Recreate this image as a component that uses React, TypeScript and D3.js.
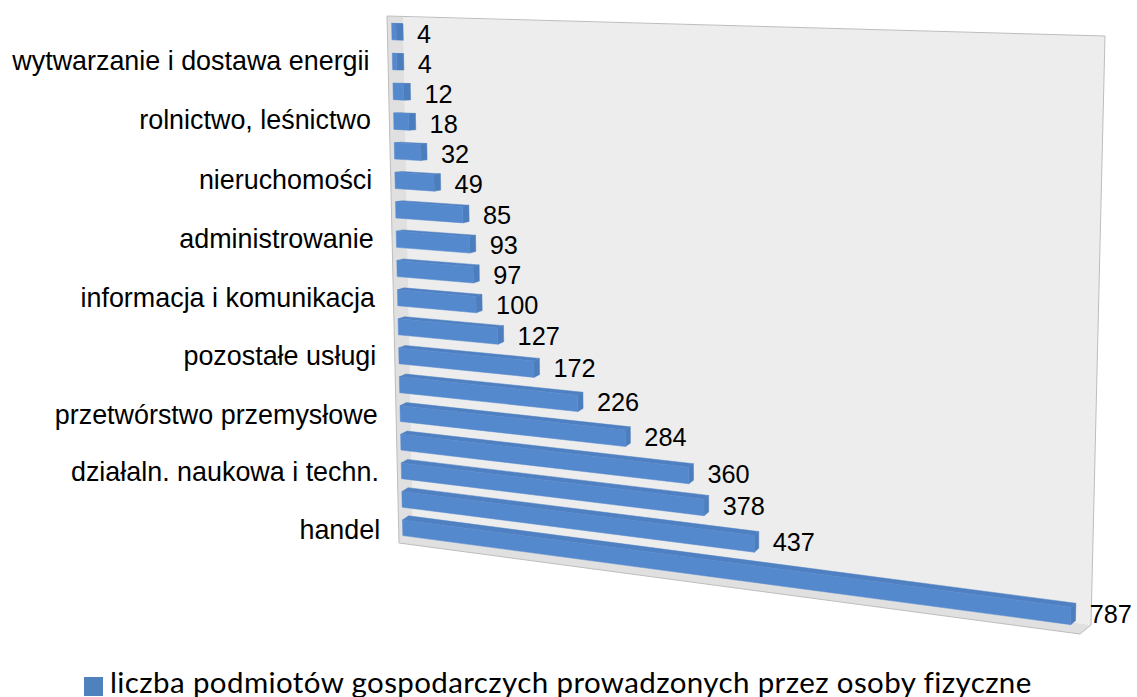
import React from "react";
import * as d3 from "d3";

// top to bottom, Excel only printed every second category name
const rowLabels = [
  "",
  "wytwarzanie i dostawa energii",
  "",
  "rolnictwo, leśnictwo",
  "",
  "nieruchomości",
  "",
  "administrowanie",
  "",
  "informacja i komunikacja",
  "",
  "pozostałe usługi",
  "",
  "przetwórstwo przemysłowe",
  "",
  "działaln. naukowa i techn.",
  "",
  "handel",
];
const values = [4, 4, 12, 18, 32, 49, 85, 93, 97, 100, 127, 172, 226, 284, 360, 378, 437, 787];
const legendLabel = "liczba podmiotów gospodarczych prowadzonych przez osoby fizyczne";

const width = 1137;
const height = 697;

type Pt = [number, number];

// corners of the 3D box as Excel drew it: top-left, top-right, bottom-right, bottom-left
const frontQuad: Pt[] = [[387, 16], [1089, 42], [1080, 634], [399, 543]];
const backQuad: Pt[] = [[403, 17], [1105, 36], [1091, 625], [413, 533]];

// unit square -> quadrilateral
const homography = (q: Pt[]) => {
  const [[x0, y0], [x1, y1], [x2, y2], [x3, y3]] = q;
  const dx1 = x1 - x2, dx2 = x3 - x2, sx = x0 - x1 + x2 - x3;
  const dy1 = y1 - y2, dy2 = y3 - y2, sy = y0 - y1 + y2 - y3;
  const det = dx1 * dy2 - dx2 * dy1;
  const g = (sx * dy2 - dx2 * sy) / det;
  const h = (dx1 * sy - sx * dy1) / det;
  return (u: number, v: number): Pt => {
    const w = g * u + h * v + 1;
    return [
      ((x1 - x0 + g * x1) * u + (x3 - x0 + h * x3) * v + x0) / w,
      ((y1 - y0 + g * y1) * u + (y3 - y0 + h * y3) * v + y0) / w,
    ];
  };
};

const front = homography(frontQuad);
const back = homography(backQuad);

// u along the value axis, v down the categories, d from front plane to back wall
const project = (u: number, v: number, d: number): Pt => {
  const a = front(u, v);
  const b = back(u, v);
  return [a[0] + (b[0] - a[0]) * d, a[1] + (b[1] - a[1]) * d];
};

const uScale = d3.scaleLinear().domain([0, 800]).range([0.002, 1]);
const vScale = d3
  .scaleBand<number>()
  .domain(d3.range(values.length))
  .range([-0.012, 1.016])
  .padding(0.45);

const line = d3.line();
const poly = (pts: Pt[]) => line(pts) + "Z";

const depthNear = 0.28;
const depthFar = 0.72;

const App = () => {
  const band = vScale.bandwidth();
  const sideWall = [frontQuad[0], backQuad[0], backQuad[3], frontQuad[3]];
  const floor = [frontQuad[3], backQuad[3], backQuad[2], frontQuad[2]];
  const outline = [frontQuad[0], backQuad[1], backQuad[2], frontQuad[2], frontQuad[3], frontQuad[0]];

  return (
    <svg
      width={width}
      height={height}
      style={{ position: "absolute", left: 0, top: 0, display: "block", background: "#fff" }}
    >
      <path d={poly(backQuad)} fill="#ededed" />
      <path d={poly(sideWall)} fill="#e0e0e0" />
      <path d={poly(floor)} fill="#e0e0e0" />
      <path d={line(outline) ?? ""} fill="none" stroke="#bdbdbd" strokeWidth={1} />

      {values.map((val, i) => {
        const v0 = vScale(i) ?? 0;
        const v1 = v0 + band;
        const u = uScale(val);
        const a = project(0, v0, depthNear);
        const b = project(u, v0, depthNear);
        const c = project(u, v1, depthNear);
        const e = project(0, v1, depthNear);
        const a2 = project(0, v0, depthFar);
        const b2 = project(u, v0, depthFar);
        const c2 = project(u, v1, depthFar);
        const mid = project(u, v0 + band / 2, depthFar);
        return (
          <g key={i}>
            <path d={poly([a, a2, b2, b])} fill="#4f80c1" stroke="#4f80c1" strokeWidth={0.5} />
            <path d={poly([b, b2, c2, c])} fill="#4c7dbd" stroke="#4c7dbd" strokeWidth={0.5} />
            <path d={poly([a, b, c, e])} fill="#5589ce" stroke="#5589ce" strokeWidth={0.5} />
            <text
              x={mid[0] + 14}
              y={mid[1] + 11}
              fontFamily="Liberation Sans"
              fontSize={25.3}
              fill="#000"
            >
              {val}
            </text>
          </g>
        );
      })}

      {rowLabels.map((label, i) => {
        if (!label) return null;
        const p = project(0, (vScale(i) ?? 0) + band / 2, 0);
        return (
          <text
            key={i}
            x={p[0] - 18.5}
            y={p[1] + 8}
            textAnchor="end"
            fontFamily="Liberation Sans"
            fontSize={26.9}
            fill="#000"
          >
            {label}
          </text>
        );
      })}

      <rect x={84} y={677} width={19} height={19} fill="#4f81bd" />
      <text x={110} y={693} fontFamily="Lato" fontSize={29.5} letterSpacing={0.39} fill="#000">
        {legendLabel}
      </text>
    </svg>
  );
};

export default App;
